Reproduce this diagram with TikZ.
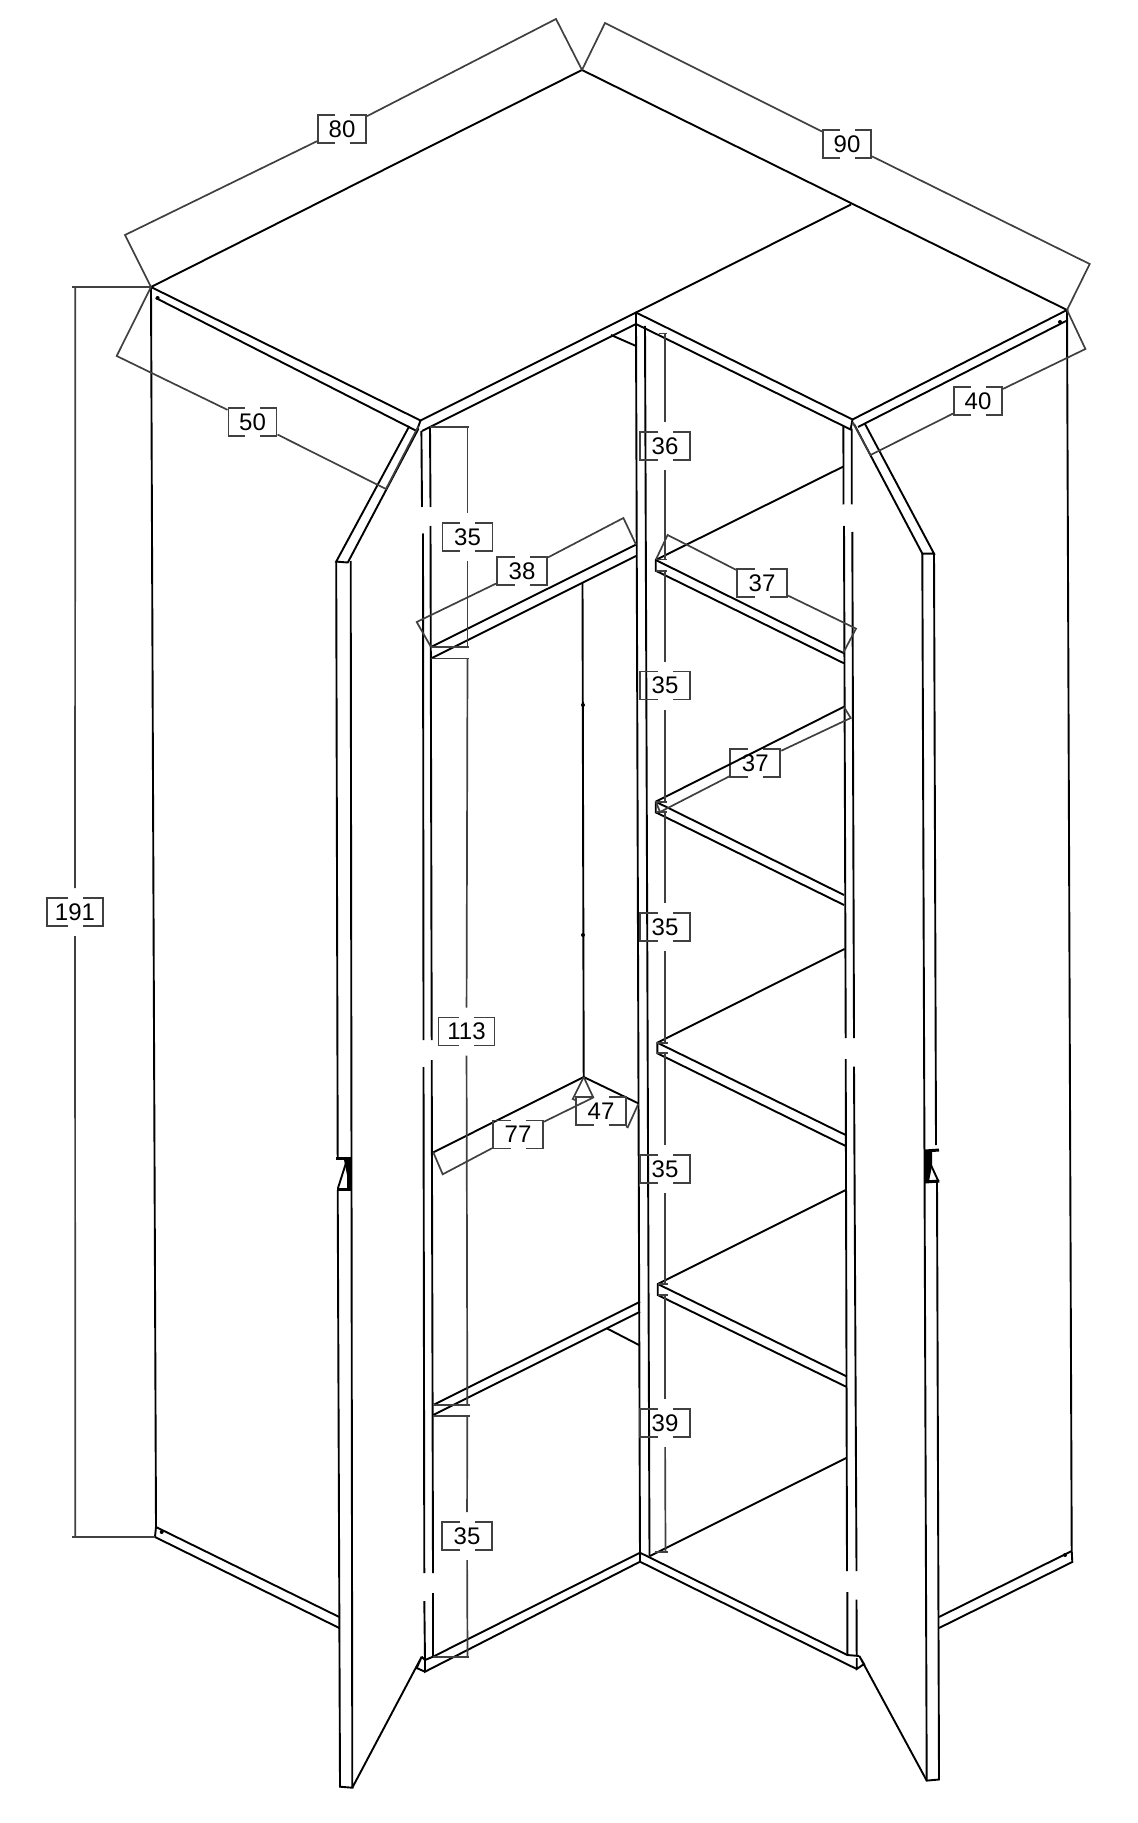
\documentclass[tikz,border=0pt]{standalone}
\usepackage{fontspec}
\setmainfont{Liberation Sans}
\definecolor{dimgray}{HTML}{404040}

\begin{document}
\begin{tikzpicture}[
x=0.5pt, y=-0.5pt,
panel/.style={draw=black, line width=0.95pt},
dim/.style={draw=dimgray, line width=0.85pt},
dimv/.style={dim, shorten >=4.5pt},
gapfill/.style={fill=white, minimum width=7.5pt, minimum height=16pt, inner sep=0pt},
boxtext/.style={font=\fontsize{12}{12}\selectfont, inner sep=0pt, text=black},
dimbox/.style={dim, minimum width=25pt, minimum height=14pt, inner sep=0pt, outer sep=0.5pt,
  label={[gapfill]center:{}}, label={[boxtext]center:#1}},
slimbox/.style={dimbox=#1, minimum width=24pt},
widebox/.style={dimbox=#1, minimum width=28pt}
]
\useasboundingbox (0,0) rectangle (1137,1823);

%Top
\draw[panel] (151,287) -- (582,70) -- (1067,310) -- (852.5,419.5) -- (636,312.5) -- (420.5,420.5) -- cycle;
\draw[panel] (636,312.5) -- (851,204.5);
\draw[panel] (155.8,298) -- (416.7,431) -- (420.5,420.5);
\draw[panel] (422,431) -- (636,324) -- (636,312.5);
\draw[panel] (611,335) -- (636,346);
\draw[panel] (636,324) -- (850.6,429.5) -- (852.5,419.5);
\draw[panel] (858,427) -- (1066,321);

%Outer sides
\draw[panel] (151,287) -- (156,1527) -- (155,1537) -- (339.3,1628);
\draw[panel] (156,1527) -- (339.3,1617);
\draw[panel] (1067,310) -- (1071.7,1551) -- (1072.3,1562) -- (939,1628);
\draw[panel] (1071.7,1551) -- (939,1617);
\fill (157.6,298) circle (1pt) (1060,322) circle (1pt) (161.7,1532) circle (1pt) (1065,1555) circle (1pt);

%Left door
\draw[panel] (409.4,426) -- (336.2,561.6) -- (347.8,562.5) -- (418.5,428.6);
\draw[panel] (336.2,561.6) -- (337.7,1157) (337.7,1190) -- (340,1786.7) -- (352.3,1787.7) -- (350.7,561);
\draw[panel] (352.3,1787.7) -- (421.7,1656.7) -- (416.7,1668) -- (425,1671.7);
\draw[panel] (421.7,1656.7) -- (425,1660);
\fill (344,1160) -- (351,1160) -- (351,1190) -- (347,1190) -- (347,1175) -- cycle;
\draw[line width=1.5pt] (336,1158) -- (351,1158) (337,1189.5) -- (351,1189.5);
\draw[panel] (346,1163) -- (338,1188);

%Right door
\draw[panel] (865,424) -- (934,553.6) -- (922.3,553.6) -- (854,424);
\draw[panel] (922.3,553.6) -- (926.7,1780.6) -- (939,1779.5) -- (937,1182) (936,1145) -- (934,553.6);
\draw[panel] (926.7,1780.6) -- (859.3,1656) -- (864,1664) -- (856.7,1669) -- (856.7,1658);
\fill (925,1150) -- (932,1150) -- (932,1166) -- (929,1181) -- (925,1181) -- cycle;
\draw[line width=1.5pt] (925,1151) -- (939,1150) (925,1182) -- (939.3,1181);
\draw[panel] (930,1163) -- (938.3,1181);

%Pillars
\draw[panel] (421.4,431) -- (422,507) (423,533.5) -- (423.5,1040) (423.5,1067) -- (424.3,1573) (424.3,1601) -- (425,1660);
\draw[panel] (430,427) -- (430.5,507) (430.5,526) -- (431.7,1040) (431.7,1060) -- (433,1573) (433,1593) -- (433,1656.7);
\draw[panel] (636,324) -- (640,1561.7);
\draw[panel] (645,326) -- (649.5,1556);
\draw[panel] (843.4,426) -- (843.5,504.5) (844,526) -- (845.7,1038) (845.7,1059) -- (847,1571) (847.3,1592) -- (847.3,1655);
\draw[panel] (851.7,428.6) -- (851.7,504.5) (852.3,532) -- (854,1038) (854,1066.7) -- (856.5,1571) (856.5,1599.5) -- (856.7,1656);

%Bottom
\draw[panel] (425,1660) -- (433,1656.7) -- (640,1552.7) -- (847.3,1655) -- (859.3,1656);
\draw[panel] (425,1660) -- (425,1671.7) -- (640,1561.7) -- (856.7,1669);

%Shelves right
\draw[panel] (843.4,466.5) -- (655.7,560) -- (655.7,570.7) -- (844,663.3);
\draw[panel] (655.7,560) -- (844,653.3);
\draw[panel] (655.7,801.7) -- (655.7,812.3) -- (844,905);
\draw[panel] (655.7,801.7) -- (844,895);
\draw[panel] (844.5,949) -- (657.3,1042.7) -- (657.3,1053.3) -- (845.7,1146);
\draw[panel] (657.3,1042.7) -- (845.7,1135);
\draw[panel] (845.7,1190) -- (657.7,1284) -- (657.7,1295) -- (846.7,1387);
\draw[panel] (657.7,1284) -- (846.7,1376.4);
\draw[panel] (846.7,1457.7) -- (650,1556);

%Shelves left
\draw[panel] (431,647) -- (636,544.6);
\draw[panel] (431,658.5) -- (636,556);
\draw[panel] (582.5,582.6) -- (583.7,1077);
\fill (583,705) circle (1pt) (583,935) circle (1pt);
\draw[panel] (433.3,1152.3) -- (583.7,1077) -- (638.3,1103.3);
\draw[panel] (433.3,1405) -- (640,1301.7);
\draw[panel] (433.3,1415) -- (640,1311.7);
\draw[panel] (606.7,1328.3) -- (639,1345);

%Labels
\node[slimbox=80]   (d80)  at (342,129)    {};
\node[slimbox=90]   (d90)  at (847,144)    {};
\node[slimbox=50]   (d50)  at (252.5,422)  {};
\node[slimbox=40]   (d40)  at (978,401)    {};
\node[widebox=191]  (d191) at (75,912)     {};
\node[dimbox=35]    (dl1)  at (467.5,537)  {};
\node[dimbox=38]    (d38)  at (522,571)    {};
\node[widebox=113]  (d113) at (466.5,1031.5) {};
\node[dimbox=77]    (d77)  at (518,1134.5) {};
\node[dimbox=47]    (d47)  at (601,1111.3) {};
\node[dimbox=35]    (dl2)  at (467,1536)   {};
\node[dimbox=36]    (dr1)  at (665,446)    {};
\node[dimbox=35]    (dr2)  at (665,685.5)  {};
\node[dimbox=35]    (dr3)  at (665,927)    {};
\node[dimbox=35]    (dr4)  at (665,1169)   {};
\node[dimbox=39]    (dr5)  at (665,1423)   {};
\node[dimbox=37]    (d37a) at (762,583)    {};
\node[dimbox=37]    (d37b) at (755.3,763)  {};

%Shelf edge over its label
\draw[panel] (844,706.7) -- (655.7,801.7);

%Dimension ends
\coordinate (apex) at (582,70);
\coordinate (tl)   at (151,287);
\coordinate (tr)   at (1067,310);
\coordinate (e80a) at (125,235);
\coordinate (e80b) at (556,19);
\coordinate (e90a) at (605,23);
\coordinate (e90b) at (1089.7,264);
\coordinate (e50a) at (116.7,356);
\coordinate (e50b) at (386,489);
\coordinate (e40a) at (1085.4,349);
\coordinate (e40b) at (870.5,455);

%Dimension lines
\draw[dim] (tl) -- (e80a) -- (d80);
\draw[dim] (apex) -- (e80b) -- (d80);
\draw[dim] (apex) -- (e90a) -- (d90);
\draw[dim] (tr) -- (e90b) -- (d90);
\draw[dim] (tl) -- (e50a) -- (d50);
\draw[dim] (418.5,426) -- (e50b) -- (d50);
\draw[dim] (tr) -- (e40a) -- (d40);
\draw[dim] (852.5,422) -- (e40b) -- (d40);
\draw[dim] (431,647) -- (416.7,622) -- (d38);
\draw[dim] (636,544.6) -- (623.4,518) -- (d38);
\draw[dim] (656,559.4) -- (667.6,535) -- (d37a);
\draw[dim] (843.4,652.6) -- (856,628.6) -- (d37a);
\draw[dim] (656,802) -- (660,812) -- (d37b);
\draw[dim] (844,707) -- (850.7,718) -- (d37b);
\draw[dim] (433.3,1152.3) -- (442.7,1174.3) -- (d77);
\draw[dim] (583.7,1077) -- (593.3,1097.5) -- (d77);
\draw[dim] (583.7,1077) -- (572.7,1099) -- (d47);
\draw[dim] (638.3,1104) -- (627.7,1127.3) -- (d47);

%Overall height
\draw[dim] (72,287) -- (tl);
\draw[dim] (72,1537) -- (155,1537);
\coordinate (v191a) at (75.3,287);
\coordinate (v191b) at (75.3,1537);
\draw[dimv] (v191a) -- (d191);
\draw[dimv] (v191b) -- (d191);

%Left column
\draw[dim] (430,427) -- (469,427);
\draw[dim] (431,647) -- (469,647);
\draw[dim] (431,658.5) -- (469,658.5);
\draw[dim] (433,1405) -- (470,1405);
\draw[dim] (433,1416) -- (470,1416);
\draw[dim] (433,1656.7) -- (469,1656.7);
\coordinate (vl1) at (467.5,427);
\coordinate (vl2) at (467.5,647);
\coordinate (vl3) at (467.5,658.5);
\coordinate (vl4) at (467.3,1405);
\coordinate (vl5) at (467.3,1416);
\coordinate (vl6) at (467.5,1656.7);
\draw[dimv] (vl1) -- (dl1);
\draw[dimv] (vl2) -- (dl1);
\draw[dimv] (vl3) -- (d113);
\draw[dimv] (vl4) -- (d113);
\draw[dimv] (vl5) -- (dl2);
\draw[dimv] (vl6) -- (dl2);

%Right column
\draw[dim] (658.6,333.5) -- (667,333.5);
\draw[dim] (656,559.4) -- (667,559.4);
\draw[dim] (656,570.7) -- (667,570.7);
\draw[dim] (656,801.7) -- (667,801.7);
\draw[dim] (656,812.3) -- (667,812.3);
\draw[dim] (657.3,1043) -- (668,1043);
\draw[dim] (657.3,1053.3) -- (668,1053.3);
\draw[dim] (657.7,1284) -- (668,1284);
\draw[dim] (657.7,1295) -- (668,1295);
\draw[dim] (655,1552) -- (668,1552);
\coordinate (vr1)  at (665,333.5);
\coordinate (vr2)  at (665,559.4);
\coordinate (vr3)  at (665,570.7);
\coordinate (vr4)  at (665,801.7);
\coordinate (vr5)  at (665,812.3);
\coordinate (vr6)  at (665,1043);
\coordinate (vr7)  at (665,1053.3);
\coordinate (vr8)  at (665,1284);
\coordinate (vr9)  at (665,1295);
\coordinate (vr10) at (665.5,1552);
\draw[dimv] (vr1) -- (dr1);
\draw[dimv] (vr2) -- (dr1);
\draw[dimv] (vr3) -- (dr2);
\draw[dimv] (vr4) -- (dr2);
\draw[dimv] (vr5) -- (dr3);
\draw[dimv] (vr6) -- (dr3);
\draw[dimv] (vr7) -- (dr4);
\draw[dimv] (vr8) -- (dr4);
\draw[dimv] (vr9) -- (dr5);
\draw[dimv] (vr10) -- (dr5);
\end{tikzpicture}
\end{document}
